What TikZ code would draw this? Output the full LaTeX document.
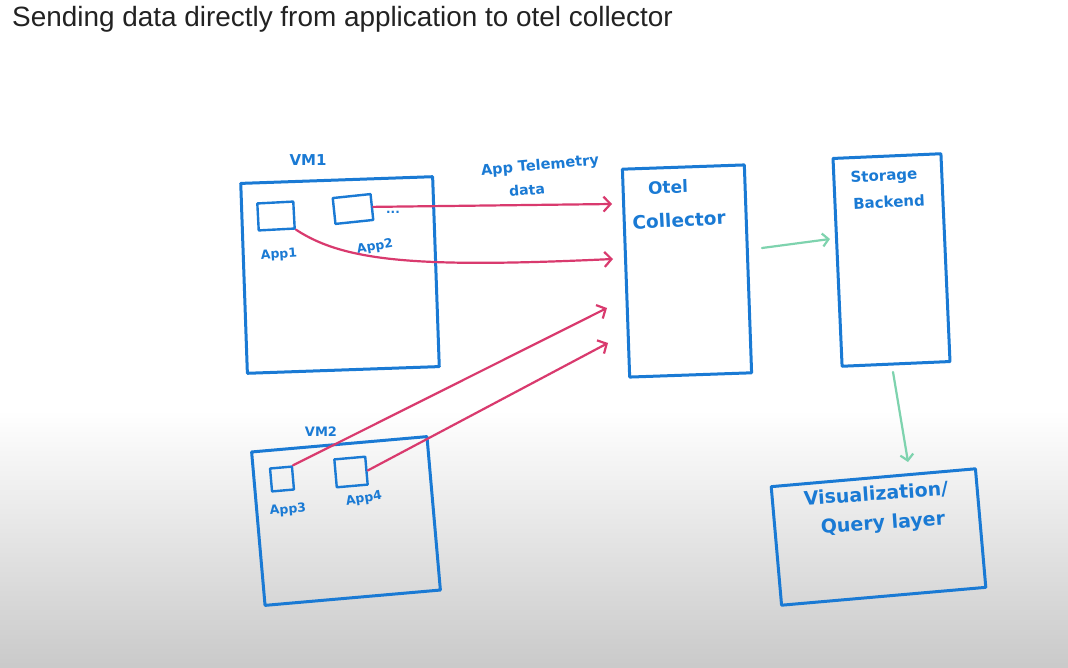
\documentclass[tikz,border=0pt]{standalone}
\usepackage{fontspec}
\setmainfont{DejaVu Sans}
\newfontfamily\titlefont{Liberation Sans}
\usetikzlibrary{arrows.meta}
\definecolor{pen}{HTML}{1A7AD4}
\definecolor{redpen}{HTML}{D93A6E}
\definecolor{greenpen}{HTML}{7ED3AE}
\definecolor{titlegray}{HTML}{222222}
\tikzset{
  bigbox/.style={draw=pen, line width=3pt, line join=round, inner sep=0pt},
  appbox/.style={draw=pen, line width=2.4pt, line join=round, inner sep=0pt},
  hand/.style={text=pen, inner sep=0pt},
  redarrow/.style={draw=redpen, line width=2.2pt, line cap=round, -{Straight Barb[length=7pt,width=15pt]}},
  greenarrow/.style={draw=greenpen, line width=2.2pt, line cap=round, -{Straight Barb[length=6pt,width=13pt]}},
}
\newcommand{\hf}[1]{\fontsize{#1}{#1}\selectfont\bfseries}
\begin{document}
\begin{tikzpicture}[x=1pt,y=-1pt]
\useasboundingbox (0,0) rectangle (1068,668);
\fill[white] (0,0) rectangle (1068,410);
\shade[top color=white,bottom color=black!21] (0,410) rectangle (1068,668);

% title
\node[anchor=base west, inner sep=0pt, text=titlegray, font=\titlefont\fontsize{27.9}{32}\selectfont] (title) at (12,27) {Sending data directly from application to otel collector};

% VM1
\node[bigbox, minimum width=192pt, minimum height=190pt, rotate=2] (vm1) at (340,275) {};
\node[hand, font=\hf{15}] (vm1l) at (308,160) {VM1};
\node[appbox, minimum width=36pt, minimum height=27pt, rotate=3] (app1) at (276,216) {};
\node[appbox, minimum width=38pt, minimum height=26pt, rotate=6] (app2) at (353,209) {};
\node[hand, font=\hf{12.5}, rotate=4] (app1l) at (279,255) {App1};
\node[hand, font=\hf{12.5}, rotate=10] (app2l) at (375,247) {App2};
\node[hand, font=\hf{12}] (dots) at (393,212) {...};

% VM2
\node[bigbox, minimum width=176pt, minimum height=154pt, rotate=5] (vm2) at (346,521) {};
\node[hand, font=\hf{13}] (vm2l) at (321,432) {VM2};
\node[appbox, minimum width=22pt, minimum height=23pt, rotate=5] (app3) at (282,479) {};
\node[appbox, minimum width=31pt, minimum height=28pt, rotate=5] (app4) at (351,472) {};
\node[hand, font=\hf{12.5}, rotate=5] (app3l) at (288,510) {App3};
\node[hand, font=\hf{12.5}, rotate=10] (app4l) at (364,499) {App4};

% collector
\node[bigbox, minimum width=122pt, minimum height=208pt, rotate=2] (collector) at (687,271) {};
\node[hand, font=\hf{17}, rotate=2] (otell) at (668,187) {Otel};
\node[hand, font=\hf{18.5}, rotate=3] (colll) at (679,220) {Collector};

% storage
\node[bigbox, minimum width=108pt, minimum height=208pt, rotate=2.5] (storage) at (891.5,260) {};
\node[hand, font=\hf{15}, rotate=3] (stl) at (884,177) {Storage};
\node[hand, font=\hf{15}, rotate=3] (bel) at (889,202) {Backend};

% visualization
\node[hand, font=\hf{19}, rotate=4] (vizl1) at (876,494) {Visualization/};
\node[hand, font=\hf{19}, rotate=4] (vizl2) at (883,524) {Query layer};
\node[bigbox, minimum width=205pt, minimum height=119pt, rotate=5] (viz) at (878.5,537) {};

% telemetry label
\node[hand, font=\hf{14.5}, rotate=5] (tel1) at (540,166) {App Telemetry};
\node[hand, font=\hf{14}, rotate=5] (tel2) at (527,190) {data};

% arrow ends
\coordinate (t1) at (612,204);
\coordinate (t2) at (613,259);
\coordinate (t3) at (607,308);
\coordinate (t4) at (608,343);
\coordinate (g1) at (762,248);
\coordinate (g2) at (830,239);
\coordinate (g3) at (893,372);
\coordinate (g4) at (908,462);

\draw[redarrow] (app2.east) -- (t1);
\draw[redarrow] (app1.south east) .. controls (345,262) and (420,268) .. (t2);
\draw[redarrow] (app3.north east) -- (t3);
\draw[redarrow] (app4.east) -- (t4);
\draw[greenarrow] (g1) -- (g2);
\draw[greenarrow] (g3) -- (g4);
\end{tikzpicture}
\end{document}
